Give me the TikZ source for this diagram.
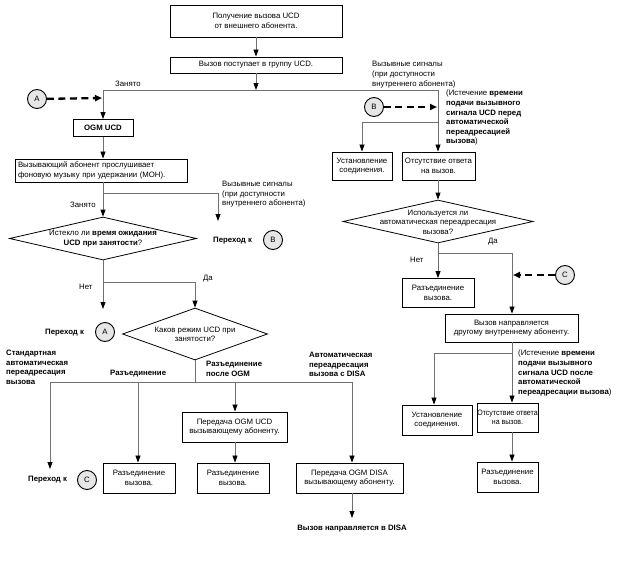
\documentclass[tikz,border=0pt]{standalone}
\usepackage{fontspec}
\setmainfont{Liberation Sans}
\newfontfamily\condfont{Liberation Sans}[FakeStretch=0.9]
\usetikzlibrary{shapes.geometric,arrows.meta}
\definecolor{lnc}{HTML}{707070}
\definecolor{circfill}{HTML}{E6E6E6}
\newcommand{\dtext}[2][-5.5pt]{\raisebox{#1}{\smash{\makebox[0pt]{\begin{tabular}{@{}c@{}}#2\end{tabular}}}}}
\tikzset{
  txt/.style={font=\fontsize{7.8}{9.6}\selectfont},
  box/.style={txt, draw=black, line width=0.9pt, align=center, inner sep=1pt, minimum width=#1},
  box/.default=60pt,
  dia/.style={txt, shape=diamond, draw=black, line width=0.8pt, inner sep=0pt},
  circ/.style={txt, shape=circle, draw=black, fill=circfill, line width=0.9pt, minimum size=19pt, inner sep=0pt},
  lbl/.style={txt, align=left, inner sep=0pt},
  blbl/.style={txt, font=\fontsize{7.8}{9.6}\selectfont\bfseries, align=left, inner sep=0pt},
  conn/.style={draw=lnc, line width=0.8pt},
  arr/.style={conn, -{Triangle[length=7pt,width=5pt,fill=black,color=black]}},
  dasharr/.style={draw=black, line width=2.3pt, dash pattern=on 7pt off 4.5pt, -{Triangle[length=7pt,width=6pt]}},
}
\begin{document}
\begin{tikzpicture}[x=1pt,y=-1pt]
\useasboundingbox (0,0) rectangle (625,568);

% ---- top
\node[box=172pt, minimum height=32pt] (b1) at (256,21) {Получение вызова UCD\\от внешнего абонента.};
\node[box=172pt, minimum height=16pt] (b2) at (256,65) {Вызов поступает в группу UCD.};
\coordinate (j1) at (256,90);
\coordinate (jL) at (103,90);
\coordinate (jR) at (438,90);
\draw[arr] (b1.south) -- (b2.north);
\draw[arr] (b2.south) -- (j1);
\draw[conn] (jL) -- (jR);
\node[lbl, anchor=west] (busy1) at (115,84) {Занято};
\node[lbl, anchor=south west] (ring1) at (372,88) {Вызывные сигналы\\(при доступности\\внутреннего абонента)};

% ---- left column
\node[box=60pt, minimum height=17pt, font=\fontsize{7.8}{9.6}\selectfont\bfseries] (ogm) at (103,128) {OGM UCD};
\node[circ] (cA1) at (37,99) {A};
\coordinate (dA1) at (102,98);
\draw[dasharr] (cA1) -- (dA1);
\draw[arr] (jL) -- (ogm.north);
\node[box=172pt, minimum height=23pt, align=left, text width=166pt] (moh) at (101,170.5) {Вызывающий абонент прослушивает\\фоновую музыку при удержании (MOH).};
\draw[arr] (ogm.south) -- (moh.north -| ogm.south);
\node[dia, minimum width=187pt, minimum height=43pt] (d1) at (103,238.5) {\dtext[-4.2pt]{Истекло ли \textbf{время ожидания}\\\textbf{UCD при занятости}?}};
\coordinate (j2) at (103,193);
\coordinate (j2r) at (218,193);
\coordinate (endB) at (218,221);
\draw[arr] (moh.south -| d1.north) -- (d1.north);
\draw[conn] (j2) -- (j2r);
\draw[arr] (j2r) -- (endB);
\node[lbl, anchor=west] (busy2) at (70,205) {Занято};
\node[lbl, anchor=north west] (ring2) at (222,181) {Вызывные сигналы\\(при доступности\\внутреннего абонента)};
\node[blbl, anchor=west] (goB) at (213,241) {Переход к};
\node[circ] (cB1) at (273,240) {B};

\node[dia, minimum width=145pt, minimum height=52pt] (d2) at (195,334) {\dtext[-6pt]{Каков режим UCD при\\занятости?}};
\coordinate (j3) at (103,282);
\coordinate (j3r) at (195,282);
\coordinate (endA) at (103,309);
\draw[arr] (d1.south) -- (endA);
\draw[conn] (j3) -- (j3r);
\draw[arr] (j3r) -- (d2.north);
\node[lbl, anchor=west] (no1) at (79,287) {Нет};
\node[lbl, anchor=west] (yes1) at (203,279) {Да};
\node[blbl, anchor=west] (goA) at (45,333) {Переход к};
\node[circ] (cA2) at (105,332) {A};

% ---- bottom branch
\coordinate (j4) at (195,382);
\coordinate (j4a) at (50,382);
\coordinate (j4b) at (138,382);
\coordinate (j4c) at (235,382);
\coordinate (j4d) at (352,382);
\draw[conn] (d2.south) -- (j4);
\draw[conn] (j4a) -- (j4d);
\node[blbl, anchor=north west] (lstd) at (6,350) {Стандартная\\автоматическая\\переадресация\\вызова};
\node[blbl, anchor=west] (ldis) at (110,374) {Разъединение};
\node[blbl, anchor=north west] (logm) at (206,361) {Разъединение\\после OGM};
\node[blbl, anchor=north west] (ldisa) at (309,352) {Автоматическая\\переадресация\\вызова с DISA};

\coordinate (endC) at (50,469);
\draw[arr] (j4a) -- (endC);
\node[blbl, anchor=west] (goC) at (28,480) {Переход к};
\node[circ] (cC1) at (87,480) {C};

\node[box=72pt, minimum height=30pt] (rl1) at (139,478) {Разъединение\\вызова.};
\draw[arr] (j4b) -- (j4b |- rl1.north);
\node[box=105pt, minimum height=30pt] (ogmt) at (234.5,427) {Передача OGM UCD\\вызывающему абоненту.};
\draw[arr] (j4c) -- (j4c |- ogmt.north);
\node[box=72pt, minimum height=30pt] (rl2) at (233,478) {Разъединение\\вызова.};
\draw[arr] (ogmt.south -| j4c) -- (j4c |- rl2.north);
\node[box=107pt, minimum height=30pt] (disa) at (349.5,478) {Передача OGM DISA\\вызывающему абоненту.};
\draw[arr] (j4d) -- (j4d |- disa.north);
\node[blbl, anchor=center] (todisa) at (352,529) {Вызов направляется в DISA};
\coordinate (endD) at (352,518);
\draw[arr] (disa.south -| j4d) -- (endD);

% ---- right column
\node[box=60pt, minimum height=28pt] (est1) at (362,166) {Установление\\соединения.};
\node[box=73pt, minimum height=28pt] (ots1) at (438.5,166) {Отсутствие ответа\\на вызов.};
\coordinate (j5) at (438,122);
\coordinate (j5l) at (362,122);
\draw[arr] (jR) -- (jR |- ots1.north);
\draw[conn] (j5) -- (j5l);
\draw[arr] (j5l) -- (est1.north);
\node[circ] (cB2) at (374,107) {B};
\coordinate (dB2) at (437,107);
\draw[dasharr] (cB2) -- (dB2);
\node[lbl, anchor=north west] (tmo1) at (446,90) {(Истечение \textbf{времени}\\\textbf{подачи вызывного}\\\textbf{сигнала UCD перед}\\\textbf{автоматической}\\\textbf{переадресацией}\\\textbf{вызова})};

\node[dia, minimum width=190pt, minimum height=43pt] (d3) at (438,221.5) {\dtext[-6.5pt]{Используется ли\\автоматическая переадресация\\вызова?}};
\draw[arr] (ots1.south -| jR) -- (d3.north);
\node[box=72pt, minimum height=29pt] (rr1) at (438,293) {Разъединение\\вызова.};
\draw[arr] (d3.south) -- (rr1.north);
\coordinate (j6) at (438,253);
\coordinate (j6r) at (512,253);
\draw[conn] (j6) -- (j6r);
\node[box=133pt, minimum height=28pt] (oth) at (511.5,328) {Вызов направляется\\другому внутреннему абоненту.};
\draw[arr] (j6r) -- (j6r |- oth.north);
\node[lbl, anchor=west] (no2) at (410,260) {Нет};
\node[lbl, anchor=west] (yes2) at (488,242) {Да};
\node[circ] (cC2) at (565,275) {C};
\coordinate (dC2) at (513,275);
\draw[dasharr] (cC2) -- (dC2);

\coordinate (j7) at (512,353);
\coordinate (j7l) at (434,353);
\node[box=70pt, minimum height=30pt] (est2) at (437,420) {Установление\\соединения.};
\node[box=61pt, minimum height=29pt, inner sep=0pt, font=\condfont\fontsize{7.8}{9.6}\selectfont] (ots2) at (507.5,417.5) {Отсутствие ответа\\на вызов.};
\node[box=61pt, minimum height=30pt] (rr2) at (507.5,477) {Разъединение\\вызова.};
\draw[arr] (oth.south -| j7) -- (j7 |- ots2.north);
\draw[conn] (j7) -- (j7l);
\draw[arr] (j7l) -- (j7l |- est2.north);
\draw[arr] (ots2.south -| j7) -- (j7 |- rr2.north);
\node[lbl, anchor=north west] (tmo2) at (518,350) {(Истечение \textbf{времени}\\\textbf{подачи вызывного}\\\textbf{сигнала UCD после}\\\textbf{автоматической}\\\textbf{переадресации вызова})};
\end{tikzpicture}
\end{document}
